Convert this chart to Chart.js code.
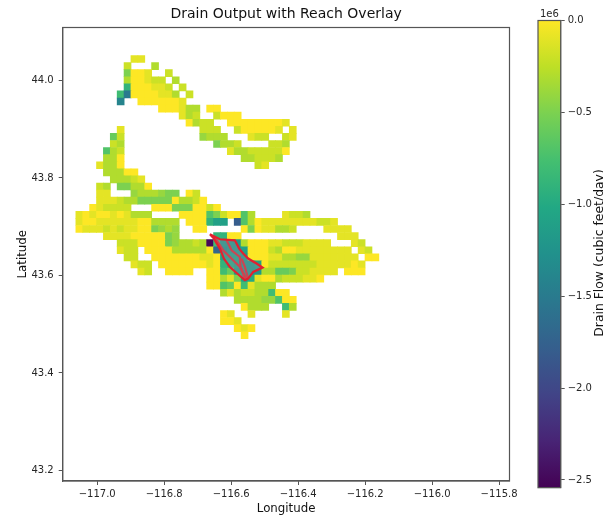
<!DOCTYPE html>
<html>
<head>
<meta charset="utf-8">
<style>
html,body{margin:0;padding:0;background:#fff;overflow:hidden}
#wrap{position:relative;width:603px;height:518px}
#mapCanvas{position:absolute;left:0;top:0}
#barCanvas{position:absolute;left:510px;top:0}
</style>
<script src="https://cdn.jsdelivr.net/npm/chart.js@4"></script>
</head>
<body>
<div id="wrap"><canvas id="mapCanvas" width="603" height="518"></canvas><canvas id="barCanvas" width="93" height="518"></canvas></div>
<script>
// Model grid
const lonFirst = -117.0533, lonStep = 0.020555;
const latFirst = 44.04396, latStep = -0.014529;
// Drain outflow magnitude per cell, in units of 1e5 cubic feet/day.
// One entry per grid row; each run is [firstColumn, value, value, ...].
const drainRows = [
 [[8,1,1]],
 [[7,2],[11,3]],
 [[7,5,0,0,1],[13,2]],
 [[7,3,0,0,1,2,2],[14,3]],
 [[7,9,0,0,0,1,1,2],[15,2]],
 [[6,8,15,0,0,0,0,1,1,3],[16,2]],
 [[6,14],[9,0,0,0,0,0,0,1]],
 [[12,0,0,0,1,3,3],[19,0,0]],
 [[15,1,3,2],[20,2,0,0,0]],
 [[16,0,3,2,2],[22,0,0,0,0,0,0,0,0,1]],
 [[6,1],[18,2,2,2],[23,2,0,0,0,0,0,1],[31,1]],
 [[5,6,2],[18,4,3,3,3],[25,1,2,2],[30,2,1]],
 [[5,2,3],[20,5,3,3,2],[28,2,2,3]],
 [[4,7,3,2],[22,1,3,3,2,2,2,2,2,0]],
 [[4,3,3,0],[24,3,3,2,2,2,3]],
 [[3,1,3,3,0],[26,2,1]],
 [[4,3,3,3,0,0]],
 [[5,3,3,3,2,1]],
 [[3,2,3],[6,5,5,3,3,0]],
 [[3,1,1],[8,4,3,3,3,4,5,5],[16,0,2]],
 [[3,1,1,1,2,3],[8,3,5,5,5,5,5,0,3,3,2,0]],
 [[2,0,1,2,2,2,2],[11,0,0,0,5,5,5,0,0,2,0]],
 [[0,1,0,1,0,0,1,0,1,3,3,3],[15,0,0,0,0,7,5,2,0,0,7,3],[30,1,2,2,3]],
 [[0,1,0,0,1,1,1,1,1,1,0,0,3,3,3,3],[16,0,0,0,9,11,11],[23,18,7,3,0,1,1,1,1,1,1,1,1,2,2,1]],
 [[0,0,1,1,1,2,1,2,1,1,0,0,5,4,3,4],[17,0,0],[24,0,5,0,1,1,3,3,2],[36,1,1,1,1]],
 [[4,1,1,1,1,0,0,0,0,0,5,4],[20,9,9,0,0],[38,1,1,1]],
 [[6,2,2,2,0,0,0,0,5,4,3,3,2,3,25,8,12,12,12,3,0,0,0,1,1,2,2,2,1,1,1,1],[40,1,2]],
 [[6,1,2,2],[10,0,0,0,0,3,3,3,3,3,0,17,13,12,12,11,0,0,0,2,3,0,0,1,1,1,1,1,1,1,1],[41,1,2]],
 [[7,2,2],[11,0,0,0,0,0,0,0,1,1,0,11,11,11,12,0,0,0,1,1,3,3,4,4,1,1,1,1,1,1,1],[42,0,0]],
 [[8,1,2,2],[12,0,0,0,0,0,0,0,1,0,9,10,11,12,12,11,0,2,2,2,2,2,2,2,1,1,1,1,1,0,1]],
 [[9,1,2],[13,0,0,0,0],[19,0,0,8,6,12,12,12,12,3,3,6,6,5,2,2,1,1,1,1],[39,0,0,0]],
 [[19,0,0,3,1,5,11,10,1,0,0,3,2,2,2,1,1,0]],
 [[19,0,0,7,6,0,8,1,3,3,3]],
 [[21,3,1,3,2,2,3,3,8,0,0]],
 [[23,3,3,3,3,4,4,7,0,0]],
 [[24,0,3,3,3],[30,8,3]],
 [[21,0,1],[25,1],[30,1]],
 [[21,0,0,1]],
 [[23,0,1,0]],
 [[24,0]]
];
// Reach overlay outlines
const reachOuterLon = [-116.6636,-116.6337,-116.5890,-116.5761,-116.5642,-116.5493,-116.5242,-116.5063,-116.5343,-116.5493,-116.5591,-116.5761,-116.6039,-116.6218,-116.6337,-116.6516,-116.6636];
const reachOuterLat = [43.6844,43.6742,43.6721,43.6551,43.6449,43.6346,43.6244,43.6162,43.6072,43.5936,43.5902,43.6004,43.6174,43.6346,43.6551,43.6756,43.6844];
const reachALon = [-116.6487,-116.6239,-116.5940,-116.5690,-116.5591];
const reachALat = [43.6783,43.6516,43.6311,43.6141,43.5902];
const reachBLon = [-116.6137,-116.5988,-116.5740,-116.5719,-116.5540];
const reachBLat = [43.6721,43.6516,43.6379,43.6141,43.5936];
const reachCLon = [-116.5690,-116.5591,-116.5493];
const reachCLat = [43.6346,43.6174,43.5936];
// Axes
const xTicks = [-117.0,-116.8,-116.6,-116.4,-116.2,-116.0,-115.8];
const yTicks = [43.2,43.4,43.6,43.8,44.0];
const xRange = [-117.103,-115.769];
const yRange = [43.1783,44.1086];
const barTicks = [0,-0.5,-1.0,-1.5,-2.0,-2.5];
const barRange = [-2.542,0];
// Viridis
const viridis = ['#440154','#482475','#414487','#355f8d','#2a788e','#21918c','#22a884','#44bf70','#7ad151','#bddf26','#fde725'];

const FONT = '"DejaVu Sans"';
const INK = '#262626', SPINE = '#555555';
const minus = s => s.replace('-', '\u2212');
function hex(c){return [1,3,5].map(i=>parseInt(c.substr(i,2),16));}
function colorAt(t){
  t=Math.min(1,Math.max(0,t));
  const p=t*(viridis.length-1), i=Math.min(viridis.length-2,Math.floor(p)), f=p-i;
  const a=hex(viridis[i]), b=hex(viridis[i+1]);
  return 'rgb('+a.map((v,k)=>Math.round(v+(b[k]-v)*f)).join(',')+')';
}
const cells=[];
drainRows.forEach((runs,r)=>runs.forEach(run=>{
  run.slice(1).forEach((v,k)=>cells.push({x:lonFirst+(run[0]+k)*lonStep,y:latFirst+r*latStep,v:-v/10}));
}));
function reach(lons,lats,filled){
  return {data:lons.map((x,i)=>({x,y:lats[i]})),showLine:true,borderColor:'#e2202e',borderWidth:2.2,pointRadius:0,
    fill:filled?'shape':false,backgroundColor:'rgba(150,155,165,0.3)',tension:0,order:0};
}
const frame={id:'frame',afterDraw(c){const a=c.chartArea,x=c.ctx;x.save();x.strokeStyle=SPINE;x.lineWidth=1.2;x.strokeRect(a.left,a.top,a.right-a.left,a.bottom-a.top);x.restore();}};
function fixed(list){return s=>{s.ticks=list.map(value=>({value}));};}

new Chart(document.getElementById('mapCanvas'),{
  type:'scatter',
  data:{datasets:[
    reach(reachOuterLon,reachOuterLat,true),
    reach(reachALon,reachALat),
    reach(reachBLon,reachBLat),
    reach(reachCLon,reachCLat),
    {data:cells,order:1,pointStyle:'rect',pointRadius:5.4,pointHoverRadius:5.4,pointBorderWidth:0,
     pointBackgroundColor:c=>colorAt(1+c.raw.v/(-barRange[0]))}
  ]},
  options:{
    responsive:false,animation:false,devicePixelRatio:1,
    layout:{padding:{right:93.5}},
    plugins:{legend:{display:false},tooltip:{enabled:false},
      title:{display:true,fullSize:false,text:'Drain Output with Reach Overlay',color:'#111',font:{family:FONT,size:14,weight:'normal',lineHeight:1.2},padding:{top:5.5,bottom:5.2}}},
    scales:{
      x:{type:'linear',min:xRange[0],max:xRange[1],afterBuildTicks:fixed(xTicks),afterFit:s=>{s.height=37;},
        grid:{drawOnChartArea:false,color:SPINE,tickLength:4,lineWidth:1},border:{color:SPINE,width:1.2},
        ticks:{color:INK,font:{family:FONT,size:10},padding:3,maxRotation:0,autoSkip:false,callback:v=>minus(v.toFixed(1))},
        title:{display:true,text:'Longitude',color:'#111',font:{family:FONT,size:11.8},padding:{top:0,bottom:1.5}}},
      y:{type:'linear',min:yRange[0],max:yRange[1],afterBuildTicks:fixed(yTicks),afterFit:s=>{s.width=62.7;},
        grid:{drawOnChartArea:false,color:SPINE,tickLength:4,lineWidth:1},border:{color:SPINE,width:1.2},
        ticks:{color:INK,font:{family:FONT,size:10},padding:5,autoSkip:false,callback:v=>v.toFixed(1)},
        title:{display:true,text:'Latitude',color:'#111',font:{family:FONT,size:11.8},padding:{top:16,bottom:0}}}
    }
  },
  plugins:[frame]
});

const barExtras={id:'barExtras',afterDraw(c){
  const x=c.ctx,a=c.chartArea;
  x.save();x.strokeStyle=SPINE;x.lineWidth=1.2;x.strokeRect(a.left,a.top,a.right-a.left,a.bottom-a.top);
  x.fillStyle=INK;x.font='10px '+FONT;x.textAlign='center';x.textBaseline='alphabetic';
  x.fillText('1e6',(a.left+a.right)/2,17);
  x.translate(93,253);x.rotate(-Math.PI/2);x.font='12.4px '+FONT;x.fillStyle='#111';x.fillText('Drain Flow (cubic feet/day)',0,0);
  x.restore();
}};
new Chart(document.getElementById('barCanvas'),{
  type:'bar',
  data:{labels:['Drain Flow'],datasets:[{data:[[barRange[0],barRange[1]]],barPercentage:1,categoryPercentage:1,borderWidth:0,
    backgroundColor:c=>{
      const a=c.chart.chartArea; if(!a) return viridis[5];
      const g=c.chart.ctx.createLinearGradient(0,a.bottom,0,a.top);
      viridis.forEach((col,i)=>g.addColorStop(i/(viridis.length-1),col));
      return g;
    }}]},
  options:{
    responsive:false,animation:false,devicePixelRatio:1,
    layout:{padding:{left:28,top:20.5,bottom:30.3,right:0}},
    plugins:{legend:{display:false},tooltip:{enabled:false}},
    scales:{
      x:{display:false},
      y:{position:'right',min:barRange[0],max:barRange[1],afterBuildTicks:fixed(barTicks),afterFit:s=>{s.width=42.3;},
        grid:{drawOnChartArea:false,color:SPINE,tickLength:4,lineWidth:1},border:{color:SPINE,width:1.2},
        ticks:{color:INK,font:{family:FONT,size:10},padding:3,autoSkip:false,callback:v=>minus(v.toFixed(1))}}
    }
  },
  plugins:[barExtras]
});
</script>
</body>
</html>
